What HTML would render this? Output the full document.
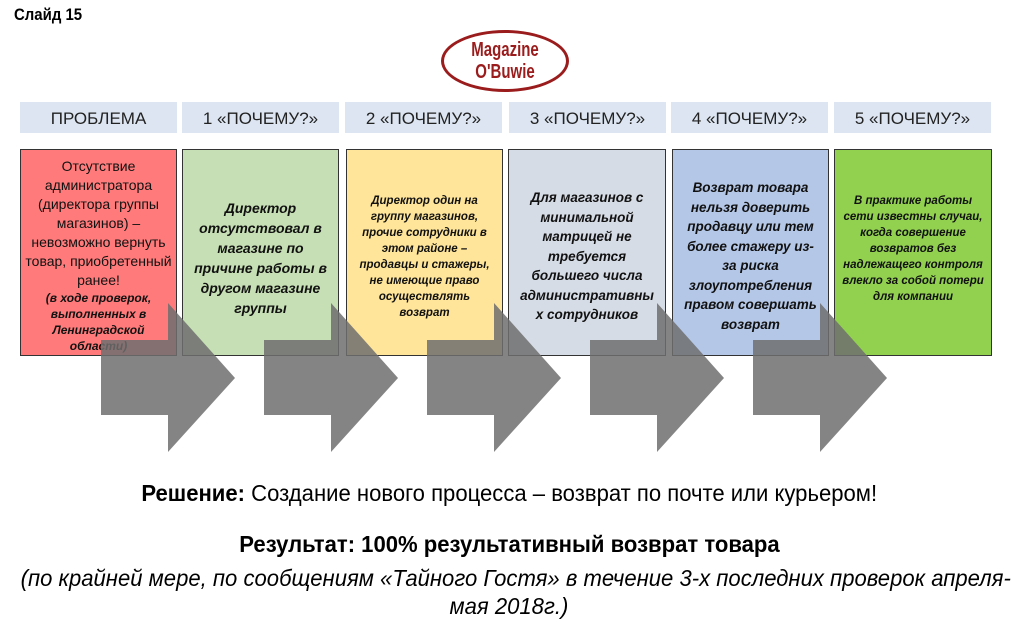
<!DOCTYPE html>
<html><head><meta charset="utf-8"><style>
body{margin:0;width:1018px;height:627px;background:#fff;position:relative;overflow:hidden;font-family:"Liberation Sans",sans-serif}
.a{position:absolute}
.hd{position:absolute;top:102px;height:31px;width:157px;background:#dce5f1;text-align:center;line-height:33px;font-size:17px;color:#222}
.bx{position:absolute;top:149px;height:207px;border:1px solid #333;box-sizing:border-box;display:flex;justify-content:center;text-align:center;color:#111}
.bx div{font-style:italic;font-weight:bold;}
.c{position:absolute;left:0;width:1018px;text-align:center;white-space:nowrap}
.c span{display:inline-block;transform:scaleX(.96)}
</style></head><body>
<div class="a" style="left:14px;top:5px;font-weight:bold;font-size:17px;transform:scaleX(.88);transform-origin:left">Слайд 15</div>
<div class="a" style="left:441px;top:30px;width:128px;height:62px;border:3px solid #9b1c1c;border-radius:50%;box-sizing:border-box;text-align:center;color:#9b1c1c;font-weight:bold;font-family:'Liberation Sans',sans-serif;font-size:20px;line-height:22px;padding-top:6px"><span style="display:inline-block;transform:scaleX(.75)">Magazine<br>O'Buwie</span></div>

<div class="hd" style="left:20px">ПРОБЛЕМА</div>
<div class="hd" style="left:182px">1 «ПОЧЕМУ?»</div>
<div class="hd" style="left:345px">2 «ПОЧЕМУ?»</div>
<div class="hd" style="left:509px">3 «ПОЧЕМУ?»</div>
<div class="hd" style="left:671px">4 «ПОЧЕМУ?»</div>
<div class="hd" style="left:834px">5 «ПОЧЕМУ?»</div>

<div class="bx" style="left:20px;width:157px;background:#ff7b7b;font-size:14px;line-height:19px;padding-top:7px"><span>Отсутствие<br>администратора<br>(директора группы<br>магазинов) –<br>невозможно вернуть<br>товар, приобретенный<br>ранее!<br><span style="display:block;font-style:italic;font-weight:bold;font-size:12px;line-height:16px">(в ходе проверок,<br>выполненных в<br>Ленинградской<br>области)</span></span></div>
<div class="bx" style="left:182px;width:157px;background:#c6dfb4;font-size:14px;line-height:20px;padding-top:48px"><div>Директор<br>отсутствовал в<br>магазине по<br>причине работы в<br>другом магазине<br>группы</div></div>
<div class="bx" style="left:346px;width:157px;background:#ffe599;font-size:11.5px;line-height:16px;padding-top:43px"><div>Директор один на<br>группу магазинов,<br>прочие сотрудники в<br>этом районе –<br>продавцы и стажеры,<br>не имеющие право<br>осуществлять<br>возврат</div></div>
<div class="bx" style="left:508px;width:158px;background:#d6dce5;font-size:13.5px;line-height:19.5px;padding-top:38px"><div>Для магазинов с<br>минимальной<br>матрицей не<br>требуется<br>большего числа<br>административны<br>х сотрудников</div></div>
<div class="bx" style="left:672px;width:157px;background:#b4c7e7;font-size:13.5px;line-height:19.5px;padding-top:28px"><div>Возврат товара<br>нельзя доверить<br>продавцу или тем<br>более стажеру из-<br>за риска<br>злоупотребления<br>правом совершать<br>возврат</div></div>
<div class="bx" style="left:834px;width:158px;background:#92d050;font-size:11.5px;line-height:16px;padding-top:43px"><div>В практике работы<br>сети известны случаи,<br>когда совершение<br>возвратов без<br>надлежащего контроля<br>влекло за собой потери<br>для компании</div></div>

<svg class="a" style="left:0;top:0" width="1018" height="627">
<g fill="#6e6e6e" fill-opacity="0.85">
<polygon points="101,340 168,340 168,303 235,378 168,452 168,415 101,415"/>
<polygon points="264,340 331,340 331,303 398,378 331,452 331,415 264,415"/>
<polygon points="427,340 494,340 494,303 561,378 494,452 494,415 427,415"/>
<polygon points="590,340 657,340 657,303 724,378 657,452 657,415 590,415"/>
<polygon points="753,340 820,340 820,303 887,378 820,452 820,415 753,415"/>
</g></svg>

<div class="c" style="top:480px;font-size:23px"><span><b>Решение:</b> Создание нового процесса – возврат по почте или курьером!</span></div>
<div class="c" style="top:531px;font-size:23px;font-weight:bold"><span>Результат: 100% результативный возврат товара</span></div>
<div class="c" style="top:565px;font-size:23px;font-style:italic"><span>(по крайней мере, по сообщениям «Тайного Гостя» в течение 3-х последних проверок апреля-</span></div>
<div class="c" style="top:593px;font-size:23px;font-style:italic"><span>мая 2018г.)</span></div>
</body></html>
